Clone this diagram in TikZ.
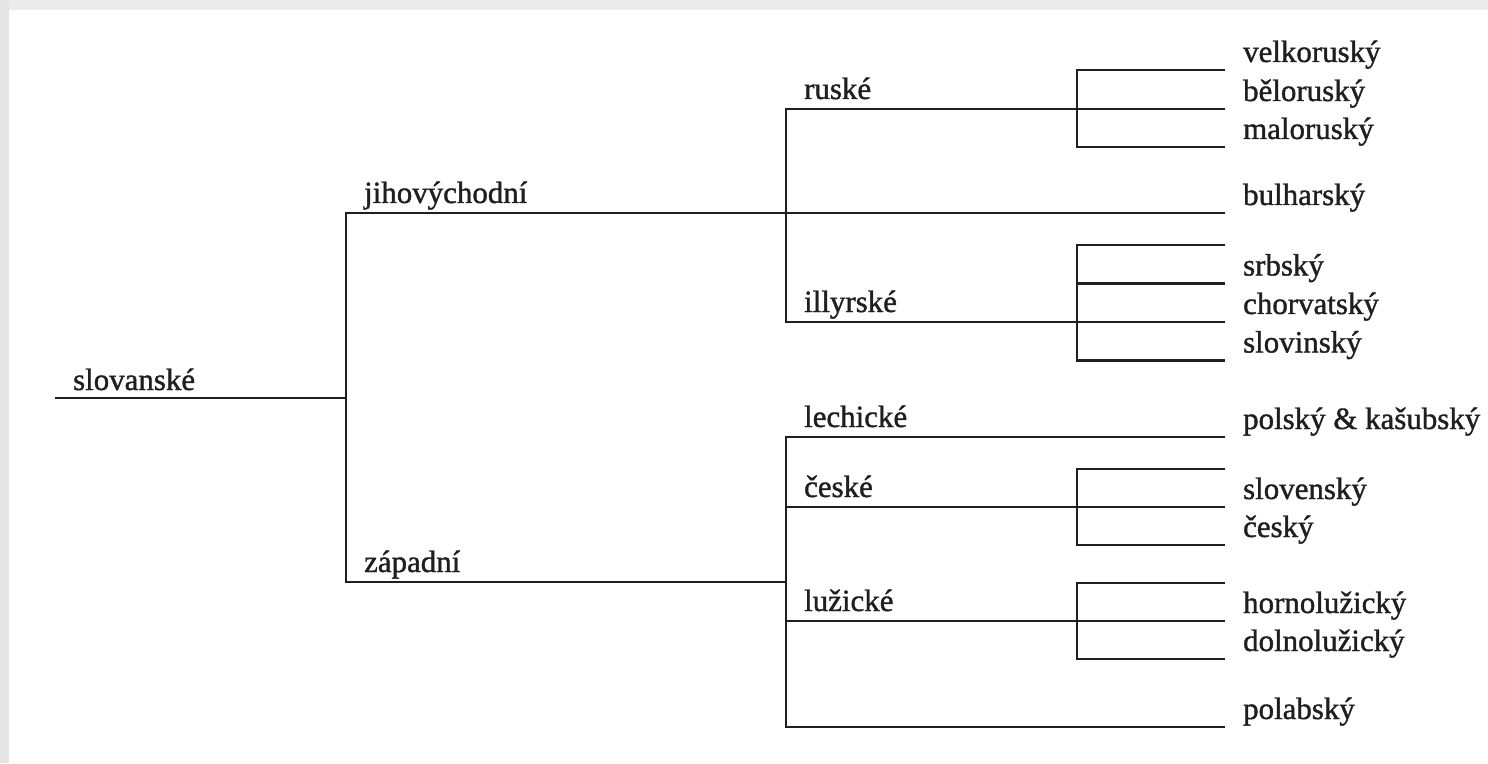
\documentclass[tikz,border=0pt]{standalone}
\usepackage{fontspec}
\setmainfont{Liberation Serif}[FakeBold=1.2]

\begin{document}
\begin{tikzpicture}[line width=1.3pt, color=black!88,
  font=\fontsize{17.6}{21}\selectfont,
  grp/.style={anchor=base west, inner sep=0pt, xshift=3.4mm, yshift=2mm},
  leaf/.style={anchor=base west, inner sep=0pt, xshift=3.4mm, yshift=1.6mm}]
  \useasboundingbox (0,0) rectangle (29.76,15.26);
  \fill[black!10] (0,0) rectangle (0.18,15.26);
  \fill[black!8] (0.18,15.06) rectangle (29.76,15.26);

  % branch points
  \coordinate (slov) at (1.10,7.30);
  \coordinate (s0) at (6.92,7.30);
  \coordinate (jv) at (6.92,11.00);
  \coordinate (zap) at (6.92,3.62);
  \coordinate (rus) at (15.72,13.08);
  \coordinate (ill) at (15.72,8.82);
  \coordinate (lech) at (15.72,6.52);
  \coordinate (ces) at (15.72,5.12);
  \coordinate (luz) at (15.72,2.84);
  \coordinate (pol) at (15.72,0.72);
  \coordinate (zap1) at (15.72,3.62);
  \coordinate (rusb) at (21.54,13.86);
  \coordinate (illb) at (21.54,10.36);
  \coordinate (cesb) at (21.54,5.88);
  \coordinate (luzb) at (21.54,3.60);

  % line ends
  \foreach \c/\y in {velk/13.86, belo/13.08, malo/12.32, bul/11.00,
      ill0/10.36, srb/9.59, chor/8.82, slvn/8.05, polk/6.52,
      ces0/5.88, slvk/5.12, cesk/4.36, luz0/3.60, horn/2.84,
      doln/2.08, polb/0.72}
    \coordinate (\c) at (24.50,\y);

  \draw (slov) -- (s0);
  \draw (bul) -- (jv) -- (zap) -- (zap1);
  \draw (belo) -- (rus) -- (ill) -- (chor);
  \draw (polk) -- (lech) -- (pol) -- (polb);
  \draw (ces) -- (slvk);
  \draw (luz) -- (horn);
  \draw (velk) -- (rusb) |- (malo);
  \draw (ill0) -- (illb) |- (slvn);
  \draw (illb |- srb) -- (srb);
  \draw (ces0) -- (cesb) |- (cesk);
  \draw (luz0) -- (luzb) |- (doln);

  \node[grp, yshift=-0.4mm] (slov-l) at (slov) {slovanské};
  \foreach \c/\t in {jv/jihovýchodní, zap/západní, rus/ruské, ill/illyrské,
      lech/lechické, ces/české, luz/lužické}
    \node[grp] (\c-l) at (\c) {\t};
  \foreach \c/\t in {velk/velkoruský, belo/běloruský, malo/maloruský,
      bul/bulharský, srb/srbský, chor/chorvatský, slvn/slovinský,
      polk/polský \& kašubský, slvk/slovenský, cesk/český,
      horn/hornolužický, doln/dolnolužický, polb/polabský}
    \node[leaf] (\c-l) at (\c) {\t};
\end{tikzpicture}
\end{document}
